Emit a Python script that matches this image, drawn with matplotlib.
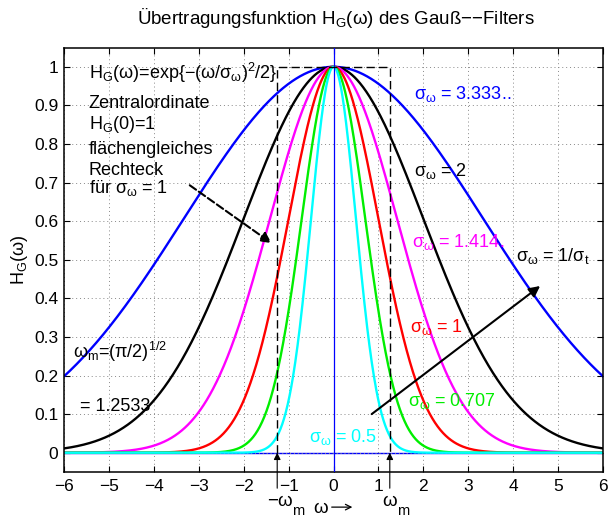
import numpy as np
import matplotlib
matplotlib.use("Agg")
import matplotlib.pyplot as plt

plt.rcParams['font.family'] = ['Liberation Sans', 'DejaVu Sans']
plt.rcParams['mathtext.fontset'] = 'custom'
plt.rcParams['mathtext.rm'] = 'Liberation Sans'
plt.rcParams['mathtext.it'] = 'Liberation Sans'
plt.rcParams['mathtext.bf'] = 'Liberation Sans:bold'
plt.rcParams['mathtext.sf'] = 'Liberation Sans'

# Data: standard deviations of the Gaussian transfer functions
sigmas = [10/3, 2.0, 1.414, 1.0, 0.707, 0.5]
colors = ['#0000ff', '#000000', '#ff00ff', '#ff0000', '#00ee00', '#00ffff']
omega_m = 1.2533
xticks = list(range(-6, 7))
yticks = [0, 0.1, 0.2, 0.3, 0.4, 0.5, 0.6, 0.7, 0.8, 0.9, 1.0]

fig = plt.figure(figsize=(6.10, 5.17), dpi=100)
ax = fig.add_axes([64/610, 1-472/517, (603-64)/610, (472-47.5)/517])

ax.axhline(0, color='#0000ff', lw=1.0, zorder=1)
w = np.linspace(-6, 6, 1201)
for i, (s, c) in enumerate(zip(sigmas, colors)):
    ax.plot(w, np.exp(-(w/s)**2/2), color=c, lw=1.7, zorder=2 + i * 0.1)

ax.axvline(0, color='#0000ff', lw=0.9, zorder=3)
# dashed rectangle
ax.plot([-omega_m, -omega_m, omega_m, omega_m], [0, 1, 1, 0], color='k', ls='--',
        lw=1.0, dashes=(6, 3), zorder=3)

ax.set_xlim(-6, 6)
ax.set_ylim(-0.05, 1.05)
ax.set_xticks(xticks)
ax.set_yticks(yticks)
ax.set_xticklabels(['\u2212%d' % -t if t < 0 else '%d' % t for t in xticks])
ax.set_yticklabels(['0' if v == 0 else ('1' if v == 1 else '%g' % v) for v in yticks])
ax.tick_params(direction='in', top=True, right=True, labelsize=12.5, length=4)
ax.tick_params(axis='x', pad=5)
ax.tick_params(axis='y', pad=4)
ax.grid(True, color='#888888', linestyle=(0, (1, 3)), lw=0.7)
for sp in ax.spines.values():
    sp.set_linewidth(1.1)

fs = 13
ax.text(-5.45, 0.985, r'$\mathrm{H_G(\omega)}$=exp{$-$($\omega$/$\sigma_\omega$)$^2$/2}', fontsize=fs, va='center')
ax.text(-5.45, 0.905, 'Zentralordinate', fontsize=fs, va='center')
ax.text(-5.45, 0.85, r'H$_\mathrm{G}$(0)=1', fontsize=fs, va='center')
ax.text(-5.45, 0.785, 'flächengleiches', fontsize=fs, va='center')
ax.text(-5.45, 0.73, 'Rechteck', fontsize=fs, va='center')
ax.text(-5.45, 0.685, r'für $\sigma_\omega$ = 1', fontsize=fs, va='center')

ax.text(1.8, 0.93, r'$\sigma_\omega$ = 3.333..', color='#0000ff', fontsize=fs, va='center')
ax.text(1.8, 0.73, r'$\sigma_\omega$ = 2', color='k', fontsize=fs, va='center')
ax.text(1.75, 0.545, r'$\sigma_\omega$ = 1.414.', color='#ff00ff', fontsize=fs, va='center')
ax.text(4.07, 0.51, r'$\sigma_\omega$ = 1/$\sigma_t$', color='k', fontsize=fs, va='center')
ax.text(1.7, 0.325, r'$\sigma_\omega$ = 1', color='#ff0000', fontsize=fs, va='center')
ax.text(1.65, 0.135, r'$\sigma_\omega$ = 0.707', color='#00ee00', fontsize=fs, va='center')
ax.text(-0.55, 0.04, r'$\sigma_\omega$ = 0.5', color='#00ffff', fontsize=fs, va='center')
ax.text(-5.8, 0.26, r'$\omega_m$=($\pi$/2)$^{1/2}$', fontsize=fs, va='center')
ax.text(-5.65, 0.12, '= 1.2533', fontsize=fs, va='center')

# arrows
ax.annotate('', xy=(-1.38, 0.543), xytext=(-3.2, 0.693),
            arrowprops=dict(arrowstyle='-|>', color='k', lw=1.5, linestyle='--',
                            mutation_scale=16, shrinkA=0, shrinkB=0))
ax.annotate('', xy=(4.6, 0.432), xytext=(0.85, 0.1),
            arrowprops=dict(arrowstyle='-|>', color='k', lw=1.5,
                            mutation_scale=16, shrinkA=0, shrinkB=0))
for xm in (-omega_m, omega_m):
    ax.annotate('', xy=(xm, 0.0), xytext=(xm, -0.092), annotation_clip=False,
                arrowprops=dict(arrowstyle='-|>', color='k', lw=0.8,
                                mutation_scale=10, shrinkA=0, shrinkB=0))

# labels below the axis (MATLAB-style low subscripts)
ax.text(-1.48, -0.137, '\u2212\u03c9', fontsize=13.5, ha='left', va='baseline', clip_on=False)
ax.text(-0.93, -0.162, 'm', fontsize=10.5, ha='left', va='baseline', clip_on=False)
ax.text(1.08, -0.138, '\u03c9', fontsize=13.5, ha='left', va='baseline', clip_on=False)
ax.text(1.41, -0.162, 'm', fontsize=10.5, ha='left', va='baseline', clip_on=False)
ax.text(-0.46, -0.155, '\u03c9', fontsize=13.5, ha='left', va='baseline', clip_on=False)
ax.annotate('', xy=(0.42, -0.141), xytext=(-0.04, -0.141), annotation_clip=False,
            arrowprops=dict(arrowstyle='->', color='k', lw=0.9, mutation_scale=10,
                            shrinkA=0, shrinkB=0))

ax.set_ylabel(r'H$_\mathrm{G}$($\omega$)', fontsize=fs, labelpad=3)
fig.text(336/610, 1-18/517, r'Übertragungsfunktion H$_\mathrm{G}$($\omega$) des Gauß$-$$-$Filters',
         fontsize=13.5, ha='center', va='center')

fig.savefig('out.png', dpi=100)
